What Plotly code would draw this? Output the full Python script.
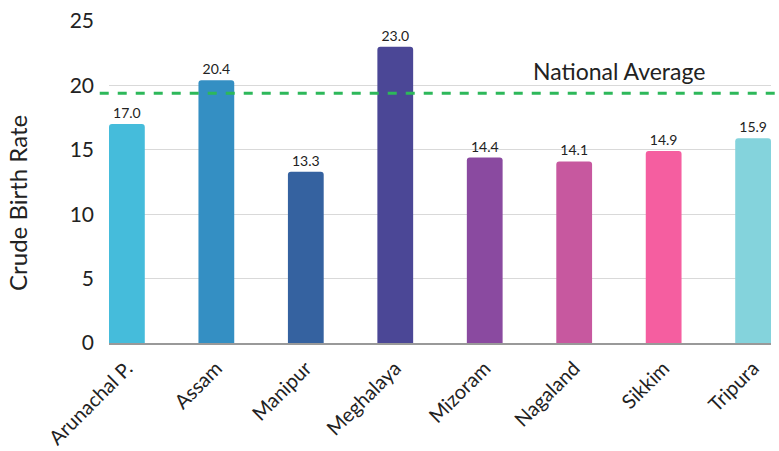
import plotly.graph_objects as go

states = ["Arunachal P.", "Assam", "Manipur", "Meghalaya", "Mizoram", "Nagaland", "Sikkim", "Tripura"]
birth_rate = [17.0, 20.4, 13.3, 23.0, 14.4, 14.1, 14.9, 15.9]
bar_colors = ["#45BCDB", "#348FC3", "#3562A0", "#4B4796", "#8A4AA0", "#C7589F", "#F55EA0", "#84D3DC"]
national_average = 19.4
y_ticks = [0, 5, 10, 15, 20, 25]

FONT = "Lato, sans-serif"

fig = go.Figure()
fig.add_trace(go.Bar(
    x=states, y=birth_rate,
    marker=dict(color=bar_colors, line=dict(width=0)),
    width=0.4,
    text=[f"{v:.1f}" for v in birth_rate],
    textposition="outside",
    textfont=dict(family=FONT, size=14, color="#222"),
    cliponaxis=False,
    hoverinfo="x+y",
))

fig.add_shape(type="line", xref="paper", yref="y",
              x0=-0.014, x1=1.02, y0=national_average, y1=national_average,
              line=dict(color="#2DB85A", width=3, dash="dash"))
fig.add_annotation(xref="x", yref="y", x=5.5, y=national_average, yshift=22,
                   text="National Average", showarrow=False,
                   font=dict(family=FONT, size=23, color="#222"))
# y-axis title
fig.add_annotation(xref="paper", yref="paper", x=-0.1375, y=0.435,
                   xanchor="center", yanchor="middle",
                   text="Crude Birth Rate", showarrow=False, textangle=-90,
                   font=dict(family=FONT, size=24, color="#222"))

fig.update_layout(
    width=779, height=451,
    margin=dict(l=109, r=8, t=21, b=108, autoexpand=False),
    plot_bgcolor="white", paper_bgcolor="white",
    showlegend=False,
    barcornerradius=3,
    font=dict(family=FONT, color="#222"),
    xaxis=dict(range=[-0.2, 7.2], tickangle=-45, automargin=False,
               tickfont=dict(family=FONT, size=20, color="#222"),
               showline=True, linecolor="#999", linewidth=1.5,
               showgrid=False, ticks="", ticklabelstandoff=4),
    yaxis=dict(range=[0, 25], tickvals=y_ticks, automargin=False,
               tickfont=dict(family=FONT, size=21, color="#222"),
               showgrid=True, gridcolor="#d9d9d9", gridwidth=1,
               zeroline=False, ticks="", ticklabelstandoff=14),
)

fig.write_html("out.html", config={"displayModeBar": False},
               post_script="document.body.style.margin='0';document.body.style.overflow='hidden';")
